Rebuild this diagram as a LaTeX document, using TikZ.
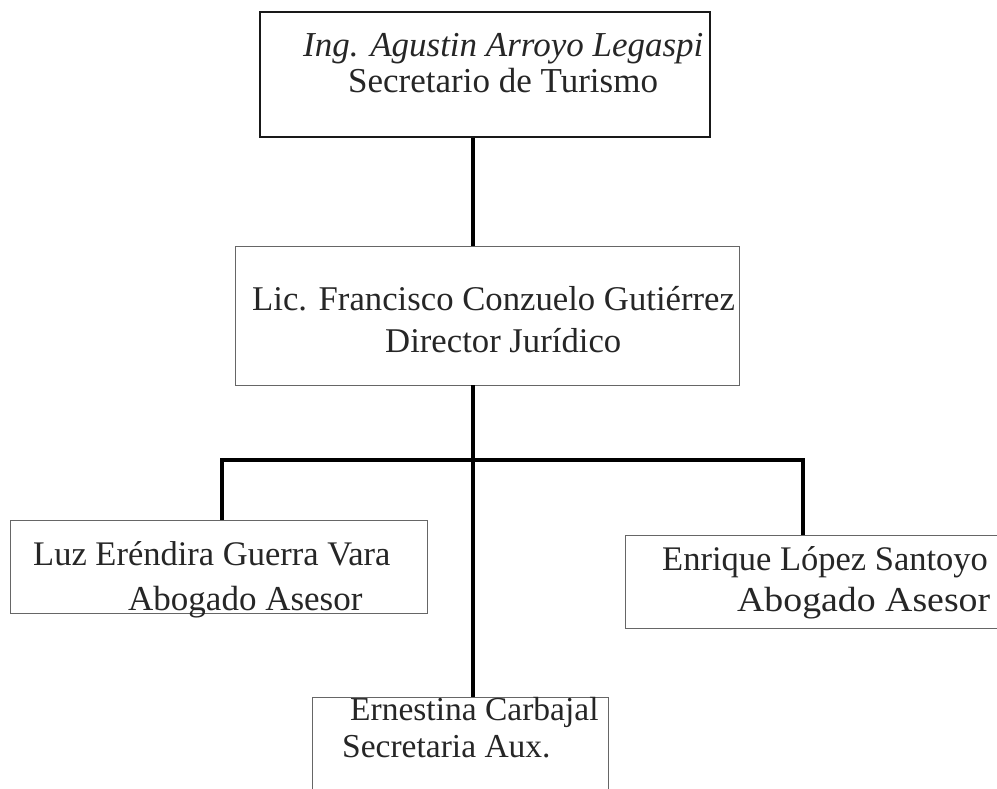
\documentclass[tikz,border=0pt]{standalone}
\usepackage{fontspec}
\setmainfont{Liberation Serif}
\usepackage{graphicx}

% one text line: font size, horizontal stretch, text
\newcommand{\orgline}[3]{\scalebox{#2}[1]{\fontsize{#1}{#1}\selectfont #3}}

\tikzset{
  orgbox/.style={draw=black!60, line width=0.8pt, rectangle, inner sep=0pt},
  topbox/.style={draw=black!90, line width=1.6pt, rectangle, inner sep=0pt},
  orgtext/.style={anchor=base west, inner sep=0pt, text=black!85},
  link/.style={draw=black, line width=4pt}
}

\begin{document}
\begin{tikzpicture}[x=1pt, y=-1pt]
  \useasboundingbox (0,0) rectangle (997,789);

  % boxes
  \node[topbox, minimum width=450pt, minimum height=125pt] (sec) at (485,74.5) {};
  \node[orgbox, minimum width=504pt, minimum height=139pt] (dir) at (487,315.5) {};
  \node[orgbox, minimum width=417pt, minimum height=93pt] (luz) at (218.5,566.5) {};
  \node[orgbox, minimum width=372pt, minimum height=93pt] (enr) at (811,581.5) {};
  \node[orgbox, minimum width=296pt, minimum height=100pt] (ern) at (460,747) {};

  % texts
  \node[orgtext] (sec1) at (303,57) {\orgline{35pt}{1}{\itshape Ing. Agustin Arroyo Legaspi}};
  \node[orgtext] (sec2) at (348,93) {\orgline{35pt}{1}{Secretario de Turismo}};
  \node[orgtext] (dir1) at (252,310) {\orgline{34.7pt}{1}{Lic. Francisco Conzuelo Gutiérrez}};
  \node[orgtext] (dir2) at (385,352) {\orgline{34.7pt}{1}{Director Jurídico}};
  \node[orgtext] (luz1) at (33,565) {\orgline{34.5pt}{1}{Luz Eréndira Guerra Vara}};
  \node[orgtext] (luz2) at (128,610) {\orgline{35pt}{1}{Abogado Asesor}};
  \node[orgtext] (enr1) at (662,570) {\orgline{34.5pt}{1}{Enrique López Santoyo}};
  \node[orgtext] (enr2) at (737,611) {\orgline{35pt}{1.08}{Abogado Asesor}};
  \node[orgtext] (ern1) at (350,720) {\orgline{33.5pt}{1}{Ernestina Carbajal}};
  \node[orgtext] (ern2) at (342,757) {\orgline{33.5pt}{1}{Secretaria Aux.}};

  % junctions of the connector bar
  \coordinate (jm) at (473,460);
  \coordinate (jl) at (222,460);
  \coordinate (jr) at (803,460);

  % connectors
  \draw[link] (sec.south -| jm) -- (dir.north -| jm);
  \draw[link] (dir.south -| jm) -- (ern.north -| jm);
  \draw[link] (luz.north -| jl) -- (jl) -- (jr) -- (enr.north -| jr);
\end{tikzpicture}
\end{document}
